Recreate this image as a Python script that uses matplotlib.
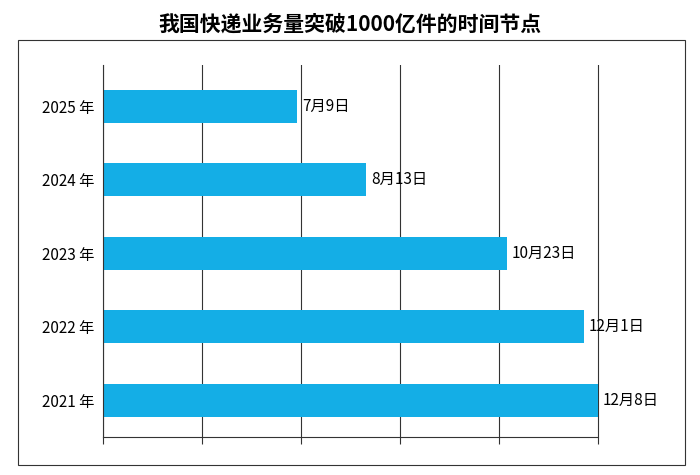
import matplotlib
matplotlib.use("Agg")
import matplotlib.pyplot as plt
from matplotlib import font_manager
from matplotlib.patches import Rectangle

# pick whichever CJK family is actually registered
cjk = [f.name for f in font_manager.fontManager.ttflist if "CJK" in f.name]
pref = [n for n in ["Noto Sans CJK SC", "Noto Sans CJK JP", "Noto Sans CJK TC", "Noto Sans CJK KR"] if n in cjk]
family = pref[0] if pref else (cjk[0] if cjk else "DejaVu Sans")
if not cjk:
    for f in font_manager.findSystemFonts():
        if "CJK" in f or "cjk" in f.lower():
            font_manager.fontManager.addfont(f)
            family = font_manager.FontProperties(fname=f).get_name()
            break
plt.rcParams["font.family"] = [family, "DejaVu Sans"]

years = ["2021 年", "2022 年", "2023 年", "2024 年", "2025 年"]
day_of_year = [342, 335, 296, 225, 190]   # date the 1000亿 mark was passed
date_labels = ["12月8日", "12月1日", "10月23日", "8月13日", "7月9日"]
BAR = "#14aee6"

fig = plt.figure(figsize=(7.0, 4.75), dpi=100)
fig.add_artist(Rectangle((18 / 700, 1 - 465 / 475), 667 / 700, 425 / 475,
                         transform=fig.transFigure, fill=False, lw=0.8, ec="#333333"))
fig.text(0.5, 1 - 24 / 475, "我国快递业务量突破1000亿件的时间节点",
         ha="center", va="center", fontsize=15, fontweight="bold")

ax = fig.add_axes([103 / 700, 1 - 437 / 475, 582 / 700, 372 / 475])
y = range(len(years))
ax.barh(list(y), day_of_year, left=0, height=0.45, color=BAR, zorder=2)
for yi, d, lbl in zip(y, day_of_year, date_labels):
    ax.text(d + 2.5, yi, lbl, va="center", ha="left", fontsize=11, zorder=3)

ax.set_xlim(92, 386)
ax.set_ylim(-0.5, 4.56)
ax.set_xticks([92, 142, 192, 242, 292, 342])
ax.set_xticklabels([])
ax.tick_params(axis="x", length=5, direction="out", color="#333333")
ax.set_yticks(list(y))
ax.set_yticklabels(years, fontsize=11)
ax.tick_params(axis="y", length=0, pad=6)
ax.grid(axis="x", color="#333333", lw=0.8, zorder=1)
for s in ["top", "right"]:
    ax.spines[s].set_visible(False)
ax.spines["left"].set_color("#333333")
ax.spines["bottom"].set_color("#333333")
ax.spines["bottom"].set_bounds(92, 342)

fig.savefig("out.png", dpi=100)
